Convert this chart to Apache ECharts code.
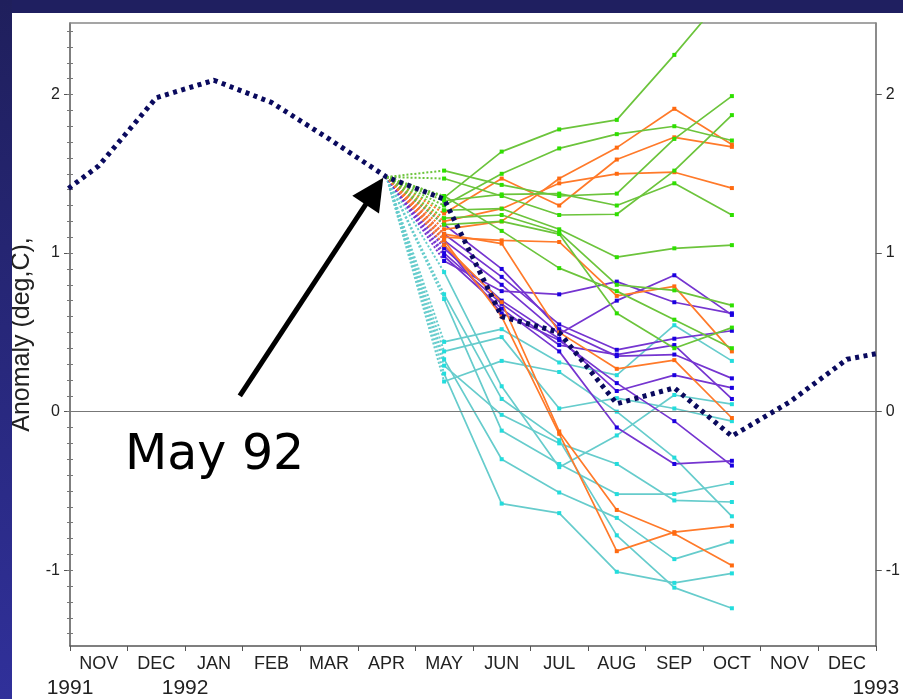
<!DOCTYPE html>
<html>
<head>
<meta charset="utf-8">
<script src="https://cdn.jsdelivr.net/npm/echarts@6/dist/echarts.min.js"></script>
<style>
html,body{margin:0;padding:0;background:#fff;}
#chart{position:absolute;left:0;top:0;width:903px;height:699px;background:#fff;}
#bandTop{position:absolute;left:0;top:0;width:903px;height:13px;background:#1f1f60;pointer-events:none;z-index:5;}
#bandLeft{position:absolute;left:0;top:0;width:12px;height:699px;background:linear-gradient(#1f1f5c,#30309a);pointer-events:none;z-index:5;}
</style>
</head>
<body>
<div id="chart"></div>
<div id="bandTop"></div>
<div id="bandLeft"></div>
<script>
// ---- categories / tick labels ----
const months = ['NOV','DEC','JAN','FEB','MAR','APR','MAY','JUN','JUL','AUG','SEP','OCT','NOV','DEC'];
const monthBoundaries = [0,1,2,3,4,5,6,7,8,9,10,11,12,13,14];
const yearPositions = [0, 2, 14];
const years = ['1991', '1992', '1993'];
const yMajorTicks = [-1, 0, 1, 2];
const yMinorTicks = [-1.4,-1.3,-1.2,-1.1,-1,-0.9,-0.8,-0.7,-0.6,-0.5,-0.4,-0.3,-0.2,-0.1,0,0.1,0.2,0.3,0.4,0.5,0.6,0.7,0.8,0.9,1,1.1,1.2,1.3,1.4,1.5,1.6,1.7,1.8,1.9,2,2.1,2.2,2.3,2.4];

// ---- observed anomaly, OCT 1991 .. JAN 1993 (monthly, mid-month) ----
const observed = [1.28, 1.55, 1.98, 2.09, 1.95, 1.72, 1.48, 1.34, 0.60, 0.50, 0.05, 0.15, -0.155, 0.06, 0.33, 0.40];
const observedStartIndex = -1; // first value is OCT 1991 (one month before NOV)

// ---- forecast members: MAY .. OCT 1992, starting from APR 1992 ----
const forecastStartMonth = 'APR';
const green = [
  [1.35, 1.64, 1.78, 1.84, 2.25, 2.68],
  [1.30, 1.50, 1.66, 1.75, 1.80, 1.71],
  [1.52, 1.43, 1.36, 1.375, 1.72, 1.99],
  [1.47, 1.36, 1.24, 1.245, 1.52, 1.87],
  [1.33, 1.37, 1.375, 1.30, 1.44, 1.24],
  [1.27, 1.28, 1.15, 0.974, 1.03, 1.05],
  [1.22, 1.24, 1.13, 0.80, 0.765, 0.67],
  [1.18, 1.20, 1.12, 0.62, 0.40, 0.53],
  [1.36, 1.14, 0.905, 0.76, 0.58, 0.40]
];
const orange = [
  [1.15, 1.20, 1.47, 1.665, 1.91, 1.685],
  [1.25, 1.47, 1.30, 1.59, 1.73, 1.67],
  [1.20, 1.28, 1.44, 1.50, 1.51, 1.41],
  [1.10, 1.08, 1.07, 0.73, 0.79, 0.38],
  [1.12, 1.06, 0.50, 0.27, 0.325, -0.04],
  [1.05, 0.69, -0.125, -0.62, -0.77, -0.97],
  [1.08, 0.60, -0.14, -0.88, -0.76, -0.72]
];
const purple = [
  [0.95, 0.76, 0.74, 0.82, 0.69, 0.62],
  [1.08, 0.80, 0.49, 0.70, 0.86, 0.61],
  [1.12, 0.85, 0.55, 0.39, 0.46, 0.51],
  [1.18, 0.90, 0.52, 0.35, 0.36, 0.21],
  [1.03, 0.70, 0.46, 0.13, 0.23, 0.15],
  [1.00, 0.68, 0.42, 0.36, 0.42, 0.08],
  [0.98, 0.65, 0.38, -0.10, -0.33, -0.31],
  [1.05, 0.62, 0.45, 0.18, -0.06, -0.34]
];
const cyan = [
  [0.44, 0.52, 0.31, 0.23, 0.545, 0.32],
  [0.19, 0.32, 0.25, 0.00, -0.29, -0.66],
  [0.38, 0.47, 0.02, 0.085, 0.02, -0.06],
  [0.88, 0.16, -0.35, -0.15, 0.105, 0.047],
  [0.71, -0.12, -0.33, -0.52, -0.52, -0.45],
  [0.33, -0.30, -0.51, -0.67, -0.93, -0.82],
  [0.24, -0.58, -0.64, -1.01, -1.08, -1.02],
  [0.74, 0.08, -0.18, -0.78, -1.11, -1.24],
  [0.29, -0.02, -0.20, -0.33, -0.56, -0.57]
];

// ---- annotation ----
const annotationText = 'May 92';
const arrowFrom = [2.95, 0.10];
const arrowTo = [5.29, 1.39];

// ---- build ----
const FONT = 'Liberation Sans, Arial, sans-serif';
const pos = idx => idx + 0.5; // category index -> mid-month position
const aprPos = pos(months.indexOf(forecastStartMonth));
const aprVal = observed[months.indexOf(forecastStartMonth) - observedStartIndex];

const groups = [
  {data: cyan,   line: '#66cccc', mark: '#22dddd'},
  {data: purple, line: '#7535d0', mark: '#1a00e0'},
  {data: orange, line: '#ff7a2a', mark: '#ff6a10'},
  {data: green,  line: '#6cc43c', mark: '#2ee000'}
];

const series = [];
groups.forEach(g => {
  g.data.forEach(m => {
    series.push({
      type: 'line', xAxisIndex: 0, yAxisIndex: 0, silent: true,
      data: [[aprPos, aprVal], [aprPos + 1, m[0]]],
      showSymbol: false,
      lineStyle: {color: g.line, width: 2, type: [2, 2]},
      z: 2
    });
    series.push({
      type: 'line', xAxisIndex: 0, yAxisIndex: 0, silent: true,
      data: m.map((v, j) => [aprPos + 1 + j, v]),
      symbol: 'rect', symbolSize: 4, showSymbol: true,
      itemStyle: {color: g.mark},
      lineStyle: {color: g.line, width: 1.7},
      z: 3
    });
  });
});

// zero line + arrow
series.push({
  type: 'line', xAxisIndex: 0, yAxisIndex: 0, data: [], silent: true, z: 1,
  markLine: {
    silent: true, symbol: ['none', 'none'], label: {show: false},
    lineStyle: {color: '#777', width: 1, type: 'solid'},
    data: [{yAxis: 0}]
  }
});
series.push({
  type: 'line', xAxisIndex: 0, yAxisIndex: 0, data: [], silent: true, z: 6,
  color: '#000',
  markLine: {
    silent: true, symbol: ['none', 'triangle'], symbolSize: 32,
    label: {show: false},
    lineStyle: {color: '#000', width: 5, type: 'solid'},
    itemStyle: {color: '#000'},
    data: [[{coord: arrowFrom}, {coord: arrowTo}]]
  }
});

// observed
series.push({
  type: 'line', xAxisIndex: 0, yAxisIndex: 0, silent: true,
  data: observed.map((v, i) => [i + observedStartIndex + 0.5, v]),
  showSymbol: false,
  lineStyle: {color: '#0a0a5e', width: 5, type: [4, 4.5], cap: 'butt'},
  z: 8
});

const chart = echarts.init(document.getElementById('chart'), null, {renderer: 'canvas'});
chart.setOption({
  animation: false,
  backgroundColor: '#fff',
  grid: {left: 70, right: 25, top: 23, bottom: 51, containLabel: false},
  xAxis: [
    {
      type: 'value', min: 0, max: 14, position: 'bottom',
      axisLine: {show: true, onZero: false, lineStyle: {color: '#555', width: 1.5}},
      axisTick: {show: true, customValues: monthBoundaries, length: 5, lineStyle: {color: '#555'}},
      axisLabel: {show: true, customValues: months.map((m, i) => pos(i)),
        formatter: v => months[Math.round(v - 0.5)], fontSize: 18, color: '#222',
        fontFamily: FONT, margin: 9},
      splitLine: {show: false}
    },
    {
      type: 'value', min: 0, max: 14, position: 'bottom', offset: 25,
      axisLine: {show: false}, axisTick: {show: false},
      axisLabel: {show: true, customValues: yearPositions, showMinLabel: true, showMaxLabel: true,
        formatter: v => years[yearPositions.indexOf(Math.round(v))], fontSize: 21, color: '#222',
        fontFamily: FONT, margin: 7},
      splitLine: {show: false}
    },
    {
      type: 'value', min: 0, max: 14, position: 'top',
      axisLine: {show: true, onZero: false, lineStyle: {color: '#888', width: 1.5}},
      axisTick: {show: false}, axisLabel: {show: false}, splitLine: {show: false}
    }
  ],
  yAxis: [
    {
      type: 'value', min: -1.478, max: 2.451, position: 'left',
      name: 'Anomaly (deg,C),', nameLocation: 'middle', nameRotate: 90, nameGap: 30,
      nameTextStyle: {fontSize: 25, color: '#222', fontFamily: FONT},
      axisLine: {show: true, onZero: false, lineStyle: {color: '#555', width: 1.5}},
      axisTick: {show: true, customValues: yMajorTicks, length: 6, lineStyle: {color: '#555'}},
      axisLabel: {show: true, customValues: yMajorTicks, fontSize: 16, color: '#222', fontFamily: FONT, margin: 10},
      splitLine: {show: false}
    },
    {
      type: 'value', min: -1.478, max: 2.451, position: 'left',
      axisLine: {show: false},
      axisTick: {show: true, customValues: yMinorTicks, length: 3, lineStyle: {color: '#777'}},
      axisLabel: {show: false}, splitLine: {show: false}
    },
    {
      type: 'value', min: -1.478, max: 2.451, position: 'right',
      axisLine: {show: true, onZero: false, lineStyle: {color: '#666', width: 1.5}},
      axisTick: {show: true, customValues: yMajorTicks, length: 6, lineStyle: {color: '#555'}},
      axisLabel: {show: true, customValues: yMajorTicks, fontSize: 16, color: '#222', fontFamily: FONT, margin: 10},
      splitLine: {show: false}
    },
    {
      type: 'value', min: -1.478, max: 2.451, position: 'right',
      axisLine: {show: false},
      axisTick: {show: true, customValues: yMinorTicks, length: 3, lineStyle: {color: '#777'}},
      axisLabel: {show: false}, splitLine: {show: false}
    }
  ],
  graphic: [{
    type: 'text', left: 125, top: 432, silent: true,
    style: {text: annotationText, font: '49px "DejaVu Sans", sans-serif', fill: '#000'}
  }],
  series: series
});
</script>
</body>
</html>
